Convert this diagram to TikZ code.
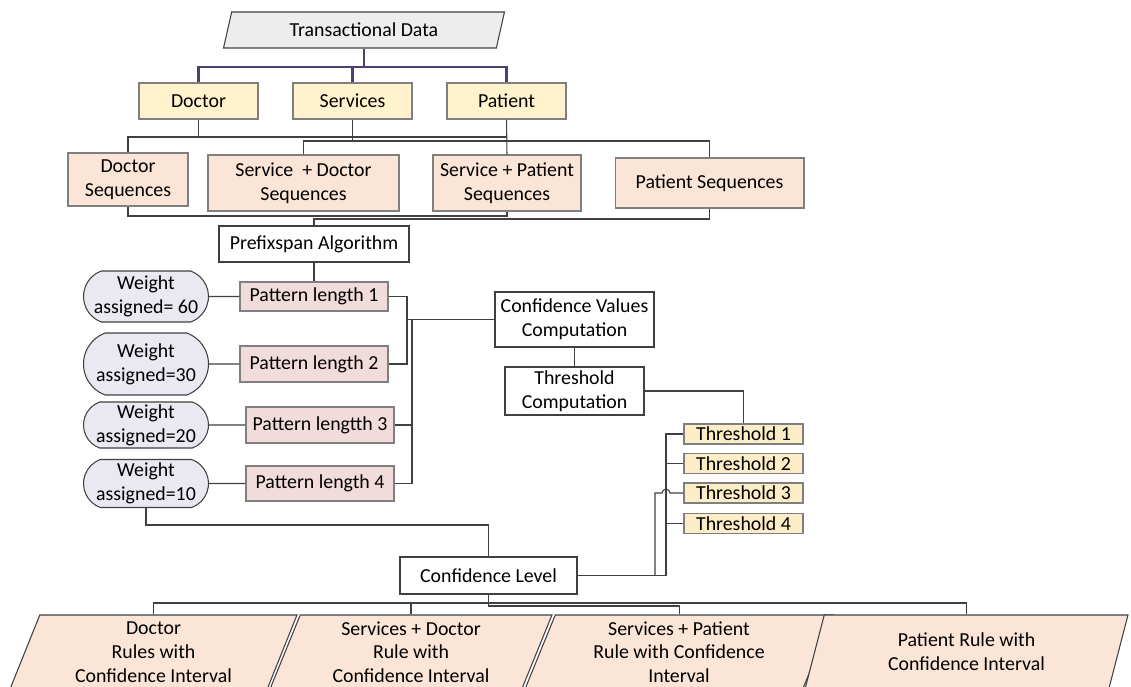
\documentclass[tikz,border=0pt]{standalone}
\usepackage{fontspec}
\setmainfont{Carlito}
\usetikzlibrary{shapes.geometric,shapes.misc}

\definecolor{linegray}{HTML}{404040}
\definecolor{boxgray}{HTML}{7F7F7F}
\definecolor{busviolet}{HTML}{4E3F72}
\definecolor{datafill}{HTML}{EDEDED}
\definecolor{keyfill}{HTML}{FFF2CC}
\definecolor{seqfill}{HTML}{FBE5D6}
\definecolor{patfill}{HTML}{F2DCDB}
\definecolor{weightfill}{HTML}{EAE8F0}
\definecolor{thfill}{HTML}{FDEDC6}

\begin{document}
\begin{tikzpicture}[x=0.02cm,y=-0.02cm,line width=0.6pt,draw=linegray,
    every node/.style={font=\fontsize{11.3}{13.5}\selectfont,align=center,inner sep=1pt},
    para node/.style={trapezium,trapezium left angle=65,trapezium right angle=115,
        trapezium stretches body,draw=linegray,fill=seqfill,minimum height=1.48cm},
    key node/.style={rectangle,draw=boxgray,fill=keyfill,minimum width=2.38cm,minimum height=0.72cm},
    seq node/.style={rectangle,draw=boxgray,fill=seqfill},
    step node/.style={rectangle,draw=linegray,fill=white},
    pat node/.style={rectangle,draw=boxgray,fill=patfill,minimum width=2.96cm,minimum height=0.72cm},
    weight node/.style={rounded rectangle,rounded rectangle arc length=140,inner xsep=-2pt,
        draw=linegray,fill=weightfill,minimum width=2.36cm},
    th node/.style={rectangle,draw=boxgray,fill=thfill,inner sep=0pt,minimum width=2.38cm,minimum height=0.4cm},
    bus/.style={draw=busviolet,line width=1.2pt}]
    \clip (0,0) rectangle (1131,686);

    % input and key fields
    \node[para node,fill=datafill,minimum width=5.62cm,minimum height=0.72cm] at (364,30) (data) {Transactional Data};
    \node[key node] at (198.5,101) (doc) {Doctor};
    \node[key node] at (352.5,101) (serv) {Services};
    \node[key node] at (506.5,101) (pat) {Patient};

    % sequences
    \node[seq node,minimum width=2.4cm,minimum height=1.06cm] at (128,179.5) (dseq) {Doctor\\Sequences};
    \node[seq node,minimum width=3.82cm,minimum height=1.12cm] at (303.5,183) (sdseq) {Service ~+ Doctor\\Sequences};
    \node[seq node,minimum width=2.96cm,minimum height=1.12cm] at (507,183) (spseq) {Service + Patient\\Sequences};
    \node[seq node,minimum width=3.78cm,minimum height=1cm] at (709.5,183) (pseq) {Patient Sequences};

    \node[step node,minimum width=3.8cm,minimum height=0.72cm] at (314,244) (prefix) {Prefixspan Algorithm};

    % patterns and weights
    \node[pat node,minimum height=0.58cm] at (314,296.5) (pl1) {Pattern length 1};
    \node[pat node] at (314,364) (pl2) {Pattern length 2};
    \node[pat node] at (320,425) (pl3) {Pattern lengtth 3};
    \node[pat node,minimum height=0.7cm] at (320,483.5) (pl4) {Pattern length 4};
    \node[weight node,minimum height=1.02cm] at (146,296.5) (w60) {Weight\\assigned= 60};
    \node[weight node,minimum height=1.24cm] at (146,364) (w30) {Weight\\assigned=30};
    \node[weight node,minimum height=0.92cm] at (146,425) (w20) {Weight\\assigned=20};
    \node[weight node,minimum height=0.96cm] at (146,483.5) (w10) {Weight\\assigned=10};

    % confidence and thresholds
    \node[step node,minimum width=3.18cm,minimum height=1.1cm] at (574.5,319.5) (cv) {Confidence Values\\Computation};
    \node[step node,minimum width=2.78cm,minimum height=0.96cm] at (574.5,391) (tc) {Threshold\\Computation};
    \node[th node] at (743.5,434) (th1) {Threshold 1};
    \node[th node] at (743.5,463.5) (th2) {Threshold 2};
    \node[th node] at (743.5,493) (th3) {Threshold 3};
    \node[th node] at (743.5,523.5) (th4) {Threshold 4};
    \node[step node,minimum width=3.54cm,minimum height=0.74cm] at (488.5,575.5) (cl) {Confidence Level};

    % rules
    \node[para node,minimum width=5.74cm] at (153.5,652) (drule) {Doctor\\Rules with\\Confidence Interval};
    \node[para node,minimum width=5.64cm] at (411,652) (sdrule) {Services + Doctor\\Rule with\\Confidence Interval};
    \node[para node,minimum width=6.16cm] at (679,652) (sprule) {Services + Patient\\Rule with Confidence\\Interval};
    \node[para node,minimum width=6.46cm] at (966.5,652) (prule) {Patient Rule with\\Confidence Interval};

    \coordinate (j1) at (407,319.5);
    \coordinate (j2) at (412,319.5);
    \coordinate (k1) at (666,575.5);
    \coordinate (k2) at (655,575.5);

    \draw[bus] (data.south) -- (data.south |- 0,67);
    \draw[bus] (doc.north) |- (pat.north |- 0,67) -- (pat.north);
    \draw[bus] (serv.north) -- (serv.north |- 0,67);

    \draw (pat.south) -- (pat.south |- 0,137) -| (dseq.north);
    \draw (doc.south) -- (doc.south |- 0,137);
    \draw (serv.south) -- (serv.south |- 0,141);
    \draw (sdseq.north) |- (pseq.north |- 0,141) -- (pseq.north);
    \draw (pat.south) -- (spseq.north);

    \draw (dseq.south) |- (spseq.south |- 0,216) -- (spseq.south);
    \draw (pseq.south) |- (prefix.north |- 0,219) -- (prefix.north);
    \draw (prefix) -- (pl1);

    \path (w60) edge (pl1)
          (w30) edge (pl2)
          (w20) edge (pl3)
          (w10) edge (pl4);

    \draw (pl1.east) -| (j1) -- (cv.west);
    \draw (pl2.east) -| (j1);
    \draw (pl3.east) -| (j2);
    \draw (pl4.east) -| (j2);

    \draw (cv) -- (tc);
    \draw (tc.east) -| (th1.north);

    \draw (w10.south) -- (w10.south |- 0,525) -| (cl.north);

    \draw (cl.east) -- (k1) |- (th1.west);
    \draw (k1 |- th2.west) -- (th2.west);
    \draw (k1 |- th4.west) -- (th4.west);
    \draw (k2) -- (k2 |- th3.west) -- (662,493) arc[start angle=180,end angle=0,radius=0.08cm] -- (th3.west);

    \draw (cl.south) |- (sprule.north |- 0,606) -- (sprule.north);
    \draw (drule.north) |- (prule.north |- 0,603) -- (prule.north);
    \draw (sdrule.north) -- (sdrule.north |- 0,603);
\end{tikzpicture}
\end{document}
